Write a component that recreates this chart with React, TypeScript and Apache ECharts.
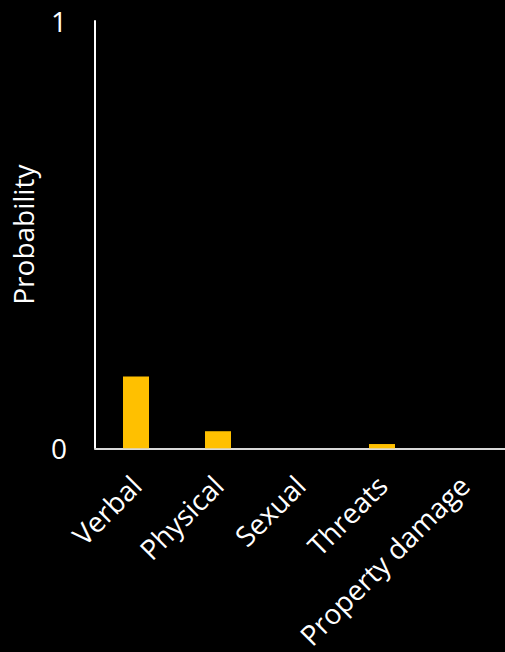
import React, { useEffect, useRef } from "react";
import * as echarts from "echarts";

const categories = ["Verbal", "Physical", "Sexual", "Threats", "Property damage"];
const probabilities = [0.168, 0.04, 0, 0.01, 0];
const yTicks = [0, 1];

export default function App() {
  const ref = useRef<HTMLDivElement>(null);
  useEffect(() => {
    document.body.style.margin = "0";
    document.body.style.background = "#000";
    const chart = echarts.init(ref.current!, null, { renderer: "svg" });
    chart.setOption({
      animation: false,
      backgroundColor: "#000000",
      textStyle: { fontFamily: "Open Sans" },
      grid: { left: 95, right: 0, top: 21, bottom: 203, containLabel: false },
      xAxis: {
        type: "category",
        data: categories,
        axisLine: { show: true, lineStyle: { color: "#d9d9d9", width: 2 } },
        axisTick: { show: false },
        axisLabel: {
          color: "#ffffff",
          fontSize: 28,
          rotate: 45,
          margin: 32,
          interval: 0,
          fontFamily: "Open Sans",
        },
      },
      yAxis: {
        type: "value",
        min: yTicks[0],
        max: yTicks[yTicks.length - 1],
        interval: 1,
        name: "Probability",
        nameLocation: "middle",
        nameGap: 58,
        nameTextStyle: { color: "#ffffff", fontSize: 28, fontFamily: "Open Sans" },
        axisLine: { show: true, lineStyle: { color: "#ffffff", width: 2 } },
        axisTick: { show: false },
        splitLine: { show: false },
        axisLabel: { color: "#ffffff", fontSize: 28, margin: 28, fontFamily: "Open Sans" },
      },
      series: [
        {
          type: "bar",
          data: probabilities,
          barWidth: 26,
          itemStyle: { color: "#ffc000" },
        },
      ],
    });
    return () => chart.dispose();
  }, []);
  return (
    <div
      ref={ref}
      style={{ position: "absolute", left: 0, top: 0, width: 505, height: 652, background: "#000" }}
    />
  );
}
